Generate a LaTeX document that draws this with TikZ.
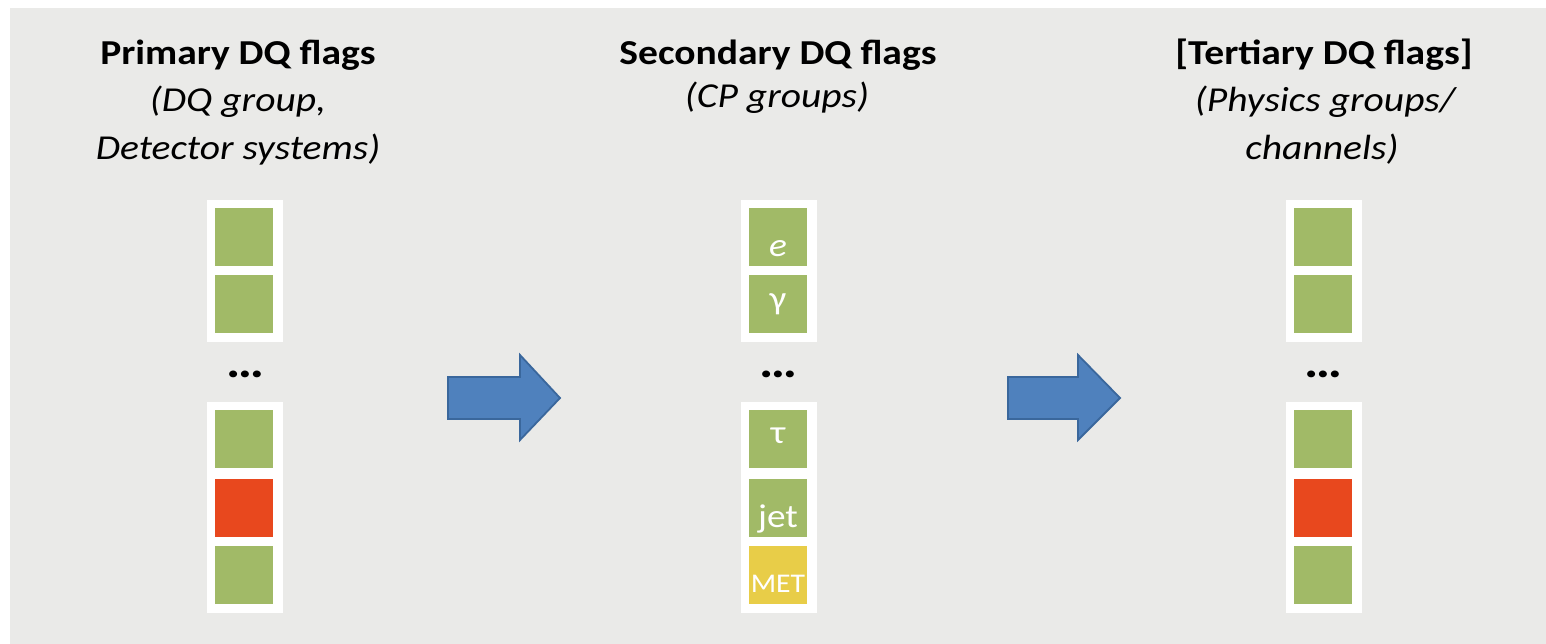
\documentclass[tikz,border=0pt]{standalone}
\usepackage{fontspec}
\setmainfont{Carlito}
\usepackage{graphicx}
\definecolor{paper}{HTML}{EAEAE8}
\definecolor{flagok}{HTML}{A1BA67}
\definecolor{flagbad}{HTML}{E8481E}
\definecolor{flagwarn}{HTML}{E8CD48}
\definecolor{arrowfill}{HTML}{4F81BD}
\definecolor{arrowedge}{HTML}{3A679C}
\newcommand{\wide}[1]{\scalebox{1.13}[1]{#1}}
\begin{document}
\begin{tikzpicture}[x=1pt,y=-1pt,
  heading/.style={anchor=base,inner sep=0pt,font=\fontsize{35}{40}\selectfont\bfseries},
  subheading/.style={anchor=base,inner sep=0pt,font=\fontsize{35}{40}\selectfont\itshape},
  flagbox/.style={minimum width=58pt,minimum height=58pt,inner sep=0pt,outer sep=0pt,draw=none},
  okflag/.style={flagbox,fill=flagok},
  badflag/.style={flagbox,fill=flagbad},
  warnflag/.style={flagbox,fill=flagwarn},
  panel/.style={fill=white,draw=none},
  flaglabel/.style={anchor=base,inner sep=0pt,text=white,font=\fontsize{33}{36}\selectfont},
  ellipsis/.style={anchor=base,inner sep=0pt,font=\fontsize{46}{50}\selectfont\bfseries},
  blockarrow/.style={fill=arrowfill,draw=arrowedge,line width=1.8pt,line join=miter}
]
\useasboundingbox (0,0) rectangle (1546,644);
\fill[paper] (10,8) rectangle (1546,644);

% column headings
\node[heading]    (h1a) at (238,65)  {\wide{Primary DQ flags}};
\node[subheading] (h1b) at (238,112) {\wide{(DQ group,}};
\node[subheading] (h1c) at (238,160) {\wide{Detector systems)}};

\node[heading]    (h2a) at (778,65)  {\wide{Secondary DQ flags}};
\node[subheading] (h2b) at (777,108) {\wide{(CP groups)}};

\node[heading]    (h3a) at (1324,65)  {\wide{[Tertiary DQ flags]}};
\node[subheading] (h3b) at (1325,112) {\wide{(Physics groups/}};
\node[subheading] (h3c) at (1322,160) {\wide{channels)}};

% white backing panels
\foreach \cx in {245,778.5,1323.5}{
  \fill[panel] (\cx-38,200) rectangle (\cx+38,342);
  \fill[panel] (\cx-38,402) rectangle (\cx+38,613);
}

% primary flags
\node[okflag]  (p1) at (244,237) {};
\node[okflag]  (p2) at (244,304) {};
\node[ellipsis] (pd) at (245,377) {\scalebox{1.16}[1]{…}};
\node[okflag]  (p3) at (244,439) {};
\node[badflag] (p4) at (244,508) {};
\node[okflag]  (p5) at (244,575) {};

% secondary flags
\node[okflag]   (s1) at (778,237) {};
\node[okflag]   (s2) at (778,304) {};
\node[ellipsis] (sd) at (778,377) {\scalebox{1.16}[1]{…}};
\node[okflag]   (s3) at (778,439) {};
\node[okflag]   (s4) at (778,508) {};
\node[warnflag] (s5) at (778,575) {};
\node[flaglabel] (l1) at (778,256) {\wide{\itshape e}};
\node[flaglabel] (l2) at (778,309) {\wide{γ}};
\node[flaglabel] (l3) at (778,443) {\wide{τ}};
\node[flaglabel] (l4) at (778,527) {\wide{jet}};
\node[flaglabel,font=\fontsize{27}{30}\selectfont] (l5) at (778,592) {\scalebox{1.1}[1]{MET}};

% tertiary flags
\node[okflag]  (t1) at (1323,237) {};
\node[okflag]  (t2) at (1323,304) {};
\node[ellipsis] (td) at (1323,377) {\scalebox{1.16}[1]{…}};
\node[okflag]  (t3) at (1323,439) {};
\node[badflag] (t4) at (1323,508) {};
\node[okflag]  (t5) at (1323,575) {};

% block arrows between the stages
\draw[blockarrow] (448,377) -- (520,377) -- (520,355) -- (560,398) -- (520,440) -- (520,419) -- (448,419) -- cycle;
\draw[blockarrow] (1008,377) -- (1078,377) -- (1078,355) -- (1120,398) -- (1078,440) -- (1078,419) -- (1008,419) -- cycle;
\end{tikzpicture}
\end{document}
